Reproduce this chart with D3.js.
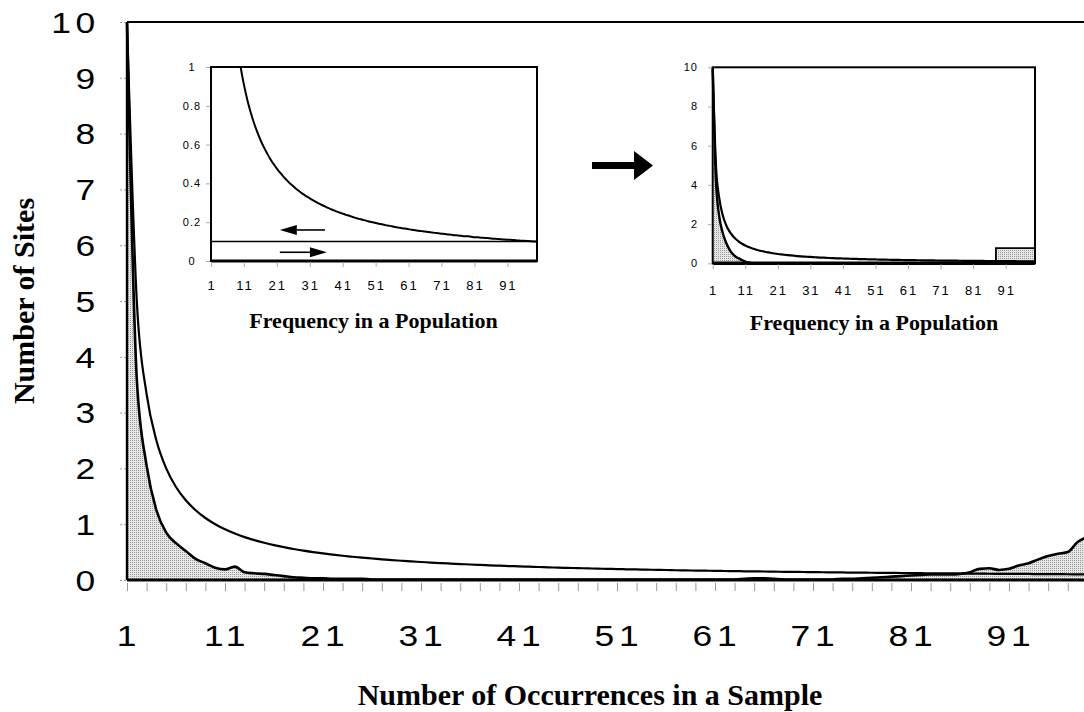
<!DOCTYPE html>
<html><head><meta charset="utf-8">
<script src="https://cdn.jsdelivr.net/npm/d3@7"></script>
<style>body{margin:0;background:#fff}svg{display:block}</style>
</head><body><svg id="c" width="1084" height="712"></svg>
<script>
// ---------- data ----------
const occurrences = d3.range(1, 101);
const expectedSites = [
  10,5,3.333,2.5,2,1.667,1.429,1.25,1.111,1,
  0.909,0.833,0.769,0.714,0.667,0.625,0.588,0.556,0.526,0.5,
  0.476,0.455,0.435,0.417,0.4,0.385,0.37,0.357,0.345,0.333,
  0.323,0.313,0.303,0.294,0.286,0.278,0.27,0.263,0.256,0.25,
  0.244,0.238,0.233,0.227,0.222,0.217,0.213,0.208,0.204,0.2,
  0.196,0.192,0.189,0.185,0.182,0.179,0.175,0.172,0.169,0.167,
  0.164,0.161,0.159,0.156,0.154,0.152,0.149,0.147,0.145,0.143,
  0.141,0.139,0.137,0.135,0.133,0.132,0.13,0.128,0.127,0.125,
  0.123,0.122,0.12,0.119,0.118,0.116,0.115,0.114,0.112,0.111,
  0.11,0.109,0.108,0.106,0.105,0.104,0.103,0.102,0.101,0.1
];
const observedSites = [
  10,3.6,2.05,1.25,0.85,0.66,0.52,0.38,0.3,0.22,
  0.19,0.24,0.14,0.12,0.11,0.09,0.07,0.05,0.04,0.03,
  0.03,0.02,0.02,0.02,0.02,0.01,0.01,0.01,0.01,0.01,
  0.01,0.01,0.01,0.01,0.01,0.01,0.01,0.01,0.01,0.01,
  0.01,0.01,0.01,0.01,0.01,0.01,0.01,0.01,0.01,0.01,
  0.01,0.01,0.01,0.01,0.01,0.01,0.01,0.01,0.01,0.01,
  0.01,0.01,0.01,0.02,0.03,0.03,0.02,0.01,0.01,0.01,
  0.01,0.01,0.01,0.02,0.02,0.03,0.04,0.05,0.06,0.07,
  0.08,0.09,0.1,0.1,0.1,0.11,0.14,0.2,0.21,0.18,
  0.2,0.26,0.3,0.37,0.43,0.47,0.5,0.68,0.77,0.82
];
const mainXTicks = [1,11,21,31,41,51,61,71,81,91];
const mainYTicks = [0,1,2,3,4,5,6,7,8,9,10];
const insetXTicks = [1,11,21,31,41,51,61,71,81,91];
const inset1YTicks = [0,0.2,0.4,0.6,0.8,1];
const inset1YLabels = ["0","0.2","0.4","0.6","0.8","1"];
const inset2YTicks = [0,2,4,6,8,10];
const populationThreshold = [0.1];
const inset2HeadFreq = [1,2,3,4,5,6,7,8,9,10,11,12,13];
const inset2HeadSites = [10,4.2,2.4,1.6,1.1,0.75,0.5,0.35,0.25,0.16,0.09,0.04,0];
const inset2BlockStart = [66, 88];
const inset2BlockEnd = [80, 100];
const inset2BlockValue = [0.06, 0.77];
// inset-1 annotation arrows (data coords)
const arrowFrom = [35.6, 21.9];
const arrowTo = [21.9, 36.2];
const arrowLevel = [0.16, 0.045];

const svg = d3.select("#c");
const defs = svg.append("defs");
const pat = defs.append("pattern").attr("id","stip").attr("width",2).attr("height",2)
  .attr("patternUnits","userSpaceOnUse");
pat.append("rect").attr("width",2).attr("height",2).attr("fill","#e6e6e6");
pat.append("rect").attr("width",1).attr("height",1).attr("fill","#9a9a9a");

const SANS = "'Liberation Sans', Arial, sans-serif";
const SERIF = "'Liberation Serif', 'Times New Roman', serif";

// ---------- main chart ----------
const x = d3.scaleLinear().domain([1,100]).range([127, 1097.2]);
const y = d3.scaleLinear().domain([0,10]).range([580, 22]);

const mainData = occurrences.map((d,i)=>({f:d, e:expectedSites[i], o:observedSites[i]}));

svg.append("path").datum(mainData)
  .attr("d", d3.area().x(d=>x(d.f)).y0(y(0)).y1(d=>y(d.o)).curve(d3.curveMonotoneX))
  .attr("fill","url(#stip)");
svg.append("path").datum(mainData)
  .attr("d", d3.line().x(d=>x(d.f)).y(d=>y(d.o)).curve(d3.curveMonotoneX))
  .attr("fill","none").attr("stroke","#000").attr("stroke-width",2.6);
svg.append("path").datum(mainData)
  .attr("d", d3.line().x(d=>x(d.f)).y(d=>y(d.e)).curve(d3.curveMonotoneX))
  .attr("fill","none").attr("stroke","#000").attr("stroke-width",2.2);

// frame
svg.append("line").attr("x1",x(1)).attr("x2",1084).attr("y1",y(10)).attr("y2",y(10))
  .attr("stroke","#000").attr("stroke-width",2);
svg.append("line").attr("x1",x(1)).attr("x2",x(1)).attr("y1",y(10)).attr("y2",y(0))
  .attr("stroke","#000").attr("stroke-width",2.4);
svg.append("line").attr("x1",x(1)).attr("x2",1084).attr("y1",y(0)).attr("y2",y(0))
  .attr("stroke","#000").attr("stroke-width",3);

// ticks
const xt = svg.append("g").attr("transform","translate(0,583)")
  .call(d3.axisBottom(x).tickValues(d3.range(1,100,2)).tickSize(8).tickFormat(""));
xt.select(".domain").remove();
xt.selectAll("line").attr("stroke","#999").attr("stroke-width",1);
const yt = svg.append("g").attr("transform","translate(126,0)")
  .call(d3.axisLeft(y).tickValues(mainYTicks).tickSize(8).tickFormat(""));
yt.select(".domain").remove();
yt.selectAll("line").attr("stroke","#999").attr("stroke-width",1).attr("stroke-dasharray","2,2");

// tick labels (wide digits)
svg.append("g").selectAll("text").data(mainYTicks).join("text")
  .attr("transform", d=>`translate(100,${y(d)}) scale(1.18,1)`)
  .attr("dy","0.36em").attr("text-anchor","end").attr("letter-spacing","4px")
  .attr("font-family",SANS).attr("font-size",30).attr("fill","#000")
  .text(d=>d);
svg.append("g").selectAll("text").data(mainXTicks).join("text")
  .attr("transform", d=>`translate(${x(d)+2},646) scale(1.18,1)`)
  .attr("text-anchor","middle").attr("letter-spacing","4px")
  .attr("font-family",SANS).attr("font-size",30).attr("fill","#000")
  .text(d=>d);

// titles
svg.append("text").attr("x",590).attr("y",705).attr("text-anchor","middle")
  .attr("font-family",SERIF).attr("font-weight","bold").attr("font-size",30)
  .text("Number of Occurrences in a Sample");
svg.append("text").attr("transform","translate(34,301) rotate(-90)").attr("text-anchor","middle")
  .attr("font-family",SERIF).attr("font-weight","bold").attr("font-size",30)
  .text("Number of Sites");

// ---------- helper for insets ----------
function insetFrame(g, xs, ys, thickBottom){
  const [x0,x1] = xs.range(); const [yb,yt2] = ys.range();
  g.append("rect").attr("x",x0).attr("y",yt2).attr("width",x1-x0).attr("height",yb-yt2)
    .attr("fill","none").attr("stroke","#000").attr("stroke-width",2);
  g.append("line").attr("x1",x0).attr("x2",x1).attr("y1",yb).attr("y2",yb)
    .attr("stroke","#000").attr("stroke-width",thickBottom);
  const xa = g.append("g").attr("transform",`translate(0,${yb+1})`)
    .call(d3.axisBottom(xs).tickValues(insetXTicks).tickSize(5).tickFormat(""));
  xa.select(".domain").remove();
  xa.selectAll("line").attr("stroke","#aaa").attr("stroke-width",1);
}

// ---------- inset 1 ----------
const g1 = svg.append("g");
const xi1 = d3.scaleLinear().domain([1,100]).range([211, 537]);
const yi1 = d3.scaleLinear().domain([0,1]).range([261, 67]);
defs.append("clipPath").attr("id","clip1").append("rect")
  .attr("x",211).attr("y",67).attr("width",326).attr("height",194);
g1.append("path").datum(mainData).attr("clip-path","url(#clip1)")
  .attr("d", d3.line().x(d=>xi1(d.f)).y(d=>yi1(d.e)).curve(d3.curveMonotoneX))
  .attr("fill","none").attr("stroke","#000").attr("stroke-width",2);
g1.selectAll(".thr").data(populationThreshold).join("line")
  .attr("x1",xi1(1)).attr("x2",xi1(100)).attr("y1",d=>yi1(d)).attr("y2",d=>yi1(d))
  .attr("stroke","#000").attr("stroke-width",1.5);
insetFrame(g1, xi1, yi1, 3);
const y1a = g1.append("g").attr("transform","translate(210,0)")
  .call(d3.axisLeft(yi1).tickValues(inset1YTicks).tickSize(4).tickFormat(""));
y1a.select(".domain").remove();
y1a.selectAll("line").attr("stroke","#aaa");
g1.selectAll(".yl").data(inset1YTicks).join("text")
  .attr("x",192).attr("y",d=>yi1(d)).attr("dy","0.36em").attr("text-anchor","middle")
  .attr("font-family",SANS).attr("font-size",11).attr("letter-spacing","1px")
  .text((d,i)=>inset1YLabels[i]);
g1.selectAll(".xl").data(insetXTicks).join("text")
  .attr("x",d=>xi1(d)+1).attr("y",290).attr("text-anchor","middle")
  .attr("font-family",SANS).attr("font-size",13).attr("letter-spacing","2px")
  .text(d=>d);
g1.append("text").attr("x",373.5).attr("y",328).attr("text-anchor","middle")
  .attr("font-family",SERIF).attr("font-weight","bold").attr("font-size",22)
  .text("Frequency in a Population");
arrowFrom.forEach((f,i)=>{
  const xa0 = xi1(f), xa1 = xi1(arrowTo[i]), yy = yi1(arrowLevel[i]);
  const dir = Math.sign(xa1-xa0), head = 17, hw = 5;
  g1.append("line").attr("x1",xa0).attr("x2",xa1-dir*head).attr("y1",yy).attr("y2",yy)
    .attr("stroke","#000").attr("stroke-width",1.6);
  g1.append("path").attr("d",`M${xa1},${yy} L${xa1-dir*head},${yy-hw} L${xa1-dir*head},${yy+hw} Z`)
    .attr("fill","#000");
});

// ---------- big arrow ----------
svg.append("path").attr("d","M592,162 H634 V151 L653,165.5 L634,180 V169 H592 Z").attr("fill","#000");

// ---------- inset 2 ----------
const g2 = svg.append("g");
const xi2 = d3.scaleLinear().domain([1,100]).range([712.7, 1035]);
const yi2 = d3.scaleLinear().domain([0,10]).range([263.3, 67.3]);
const headData = inset2HeadFreq.map((f,i)=>({f, v:inset2HeadSites[i]}));
g2.append("path").datum(headData)
  .attr("d", d3.area().x(d=>xi2(d.f)).y0(yi2(0)).y1(d=>yi2(d.v)).curve(d3.curveMonotoneX))
  .attr("fill","url(#stip)");
g2.append("path").datum(headData)
  .attr("d", d3.line().x(d=>xi2(d.f)).y(d=>yi2(d.v)).curve(d3.curveMonotoneX))
  .attr("fill","none").attr("stroke","#000").attr("stroke-width",2.4);
inset2BlockStart.forEach((s,i)=>{
  const x0 = xi2(s), x1 = xi2(inset2BlockEnd[i]), yv = yi2(inset2BlockValue[i]);
  g2.append("rect").attr("x",x0).attr("y",yv).attr("width",x1-x0).attr("height",yi2(0)-yv)
    .attr("fill","url(#stip)");
  g2.append("path").attr("d",`M${x0},${yi2(0)} V${yv} H${x1}`)
    .attr("fill","none").attr("stroke", i===0 ? "#666" : "#000").attr("stroke-width", i===0 ? 1 : 1.8);
});
g2.append("path").datum(mainData)
  .attr("d", d3.line().x(d=>xi2(d.f)).y(d=>yi2(d.e)).curve(d3.curveMonotoneX))
  .attr("fill","none").attr("stroke","#000").attr("stroke-width",2.2);
insetFrame(g2, xi2, yi2, 3.5);
const y2a = g2.append("g").attr("transform","translate(712,0)")
  .call(d3.axisLeft(yi2).tickValues(inset2YTicks).tickSize(4).tickFormat(""));
y2a.select(".domain").remove();
y2a.selectAll("line").attr("stroke","#aaa");
g2.selectAll(".yl").data(inset2YTicks).join("text")
  .attr("x",698).attr("y",d=>yi2(d)).attr("dy","0.36em").attr("text-anchor","end")
  .attr("font-family",SANS).attr("font-size",11).attr("letter-spacing","1px")
  .text(d=>d);
g2.selectAll(".xl").data(insetXTicks).join("text")
  .attr("x",d=>xi2(d)+1).attr("y",295).attr("text-anchor","middle")
  .attr("font-family",SANS).attr("font-size",13).attr("letter-spacing","2px")
  .text(d=>d);
g2.append("text").attr("x",874).attr("y",330).attr("text-anchor","middle")
  .attr("font-family",SERIF).attr("font-weight","bold").attr("font-size",22)
  .text("Frequency in a Population");
</script></body></html>
